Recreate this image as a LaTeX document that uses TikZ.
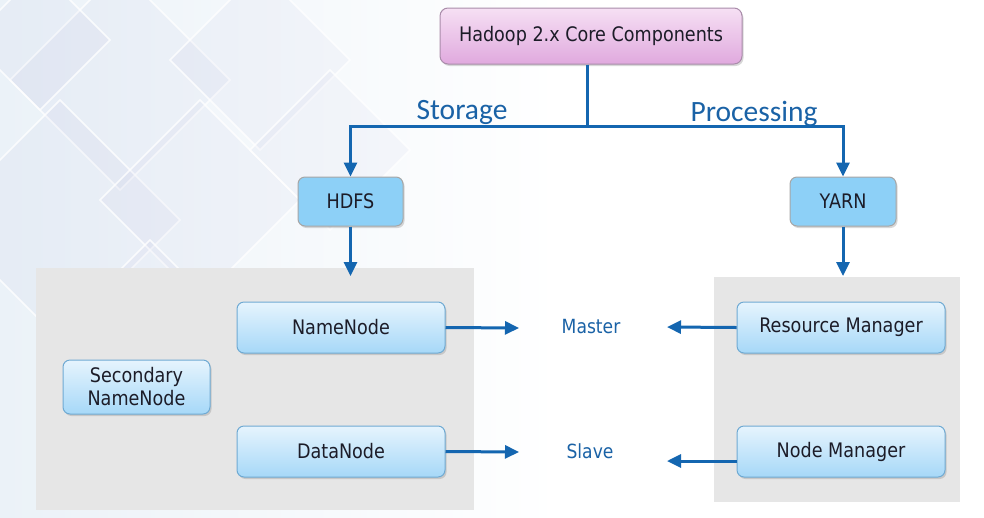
\documentclass[tikz,border=0pt]{standalone}
\usepackage{fontspec}
\setmainfont{DejaVu Sans}[FakeStretch=0.88]
\newfontfamily\labelfont{Carlito}
\usetikzlibrary{arrows.meta,shadows}
\definecolor{arrowblue}{HTML}{1466B0}
\definecolor{labelblue}{HTML}{1A62A6}
\definecolor{txtdark}{HTML}{1C1C28}
\definecolor{panelgray}{HTML}{E6E6E6}
\definecolor{boxtop}{HTML}{E6F4FD}
\definecolor{boxbot}{HTML}{A6D8F8}
\definecolor{boxedge}{HTML}{6FAAD3}
\definecolor{flatblue}{HTML}{8DD0F7}
\definecolor{pinktop}{HTML}{F6E0F4}
\definecolor{pinkbot}{HTML}{E0A9DE}
\definecolor{pinkedge}{HTML}{A98CAA}
\definecolor{bgblue}{HTML}{EBF2F8}
\tikzset{
  comp/.style={draw=boxedge, line width=1pt, rounded corners=7pt, top color=boxtop, bottom color=boxbot,
    text=txtdark, font=\fontsize{20}{23}\selectfont, align=center,
    drop shadow={shadow xshift=1.5pt, shadow yshift=-2pt, opacity=0.3}},
  flatbox/.style={draw=gray!70, line width=1pt, rounded corners=7pt, fill=flatblue,
    text=txtdark, font=\fontsize{20}{23}\selectfont,
    drop shadow={shadow xshift=1.5pt, shadow yshift=-2pt, opacity=0.3}},
  titlebox/.style={draw=pinkedge, line width=1pt, rounded corners=8pt, top color=pinktop, bottom color=pinkbot,
    text=txtdark, font=\fontsize{20}{23}\selectfont,
    drop shadow={shadow xshift=1.5pt, shadow yshift=-2pt, opacity=0.3}},
  panel/.style={fill=panelgray, draw=none},
  conn/.style={draw=arrowblue, line width=3pt},
  arr/.style={conn, -{Triangle[width=13pt,length=14pt]}},
  branchlabel/.style={text=labelblue, font=\labelfont\fontsize{29.5}{32}\selectfont},
  rolelabel/.style={text=labelblue, font=\fontsize{19.5}{22}\selectfont},
}
\begin{document}
\begin{tikzpicture}[x=1pt,y=-1pt]
\useasboundingbox (0,0) rectangle (984,517);
% background
\fill[white] (0,0) rectangle (984,517);
\shade[left color=bgblue, right color=white] (0,0) rectangle (560,517);
\begin{scope}
\clip (0,0) rectangle (984,517);
\begin{scope}[draw=white, line width=1.5pt, opacity=0.8]
\foreach \cx/\cy/\s in {120/80/110, 260/60/90, 60/220/120, 200/200/100, 330/150/80, 150/330/90, 40/40/70}{
  \draw[fill=blue!40!gray, fill opacity=0.03] (\cx-\s,\cy) -- (\cx,\cy-\s) -- (\cx+\s,\cy) -- (\cx,\cy+\s) -- cycle;
}
\end{scope}
\end{scope}
% panels
\node[panel, minimum width=438pt, minimum height=242pt, inner sep=0pt] (lp) at (255,389) {};
\node[panel, minimum width=246pt, minimum height=225pt, inner sep=0pt] (rp) at (837,389.5) {};
% nodes
\node[titlebox, minimum width=302pt, minimum height=56pt] (title) at (591,36) {Hadoop 2.x Core Components};
\node[flatbox, minimum width=105pt, minimum height=49pt] (hdfs) at (350.5,201.5) {HDFS};
\node[flatbox, minimum width=106pt, minimum height=49pt] (yarn) at (843,201.5) {YARN};
\node[comp, minimum width=208pt, minimum height=51pt] (nn) at (341,327.5) {NameNode};
\node[comp, minimum width=208pt, minimum height=51pt] (dn) at (341,451.5) {DataNode};
\node[comp, minimum width=147pt, minimum height=54pt, inner sep=2pt] (snn) at (136.5,387) {Secondary\\NameNode};
\node[comp, minimum width=208pt, minimum height=51pt] (rm) at (841,327.5) {Resource Manager};
\node[comp, minimum width=208pt, minimum height=51pt] (nm) at (841,451.5) {Node Manager};
\node[rolelabel] (master) at (591,327) {Master};
\node[rolelabel] (slave) at (590,451) {Slave};
\node[branchlabel] (storage) at (462,112) {Storage};
\node[branchlabel] (processing) at (754,114) {Processing};
% connectors
\coordinate (j) at (587,126);
\coordinate (hdfsin) at (350.5,276);
\coordinate (yarnin) at (843,276);
\coordinate (mr) at (519,328);
\coordinate (ml) at (667,327);
\coordinate (sr) at (519,452);
\coordinate (sl) at (667,461);
\draw[conn] (j |- title.south) -- (j);
\draw[arr] (j) -| (hdfs.north);
\draw[arr] (j) -| (yarn.north);
\draw[arr] (hdfs.south) -- (hdfsin);
\draw[arr] (yarn.south) -- (yarnin);
\draw[arr] (nn.east) -- (mr);
\draw[arr] (dn.east) -- (sr);
\draw[arr] (rm.west) -- (ml);
\draw[arr] (nm.west |- sl) -- (sl);
\end{tikzpicture}
\end{document}
